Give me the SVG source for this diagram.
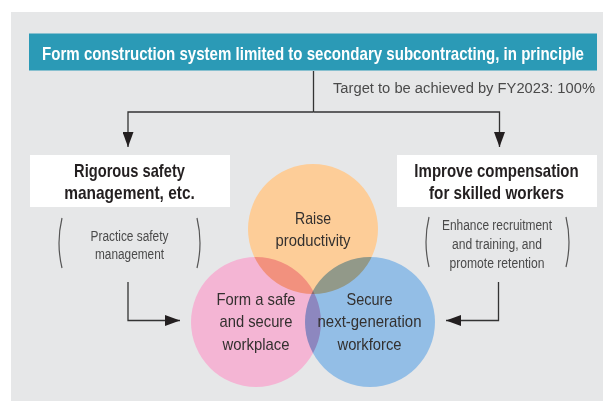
<svg xmlns="http://www.w3.org/2000/svg" width="603" height="401" viewBox="0 0 603 401">
  <style>
    .bar { font-family: "Liberation Sans Narrow", "Liberation Sans", Arial, sans-serif; font-weight: bold; font-size: 17.5px; fill: #ffffff; text-anchor: middle; }
    .head { font-family: "Liberation Sans Narrow", "Liberation Sans", Arial, sans-serif; font-weight: bold; font-size: 17.5px; fill: #231f20; text-anchor: middle; }
    .sub { font-family: "Liberation Sans Narrow", "Liberation Sans", Arial, sans-serif; font-size: 14px; fill: #4a4a4a; text-anchor: middle; }
    .circ { font-family: "Liberation Sans Narrow", "Liberation Sans", Arial, sans-serif; font-size: 17px; fill: #33302f; text-anchor: middle; }
    .note { font-family: "Liberation Sans", Arial, sans-serif; font-size: 14px; fill: #4a4a4a; text-anchor: end; }
    .conn { fill: none; stroke: #333333; stroke-width: 1.3; }
    .paren { fill: none; stroke: #555555; stroke-width: 1.2; }
    .c { mix-blend-mode: multiply; }
  </style>
  <defs>
    <marker id="ah" viewBox="0 0 15 11" refX="15" refY="5.5" markerWidth="15" markerHeight="11" markerUnits="userSpaceOnUse" orient="auto">
      <path d="M0,0 L15,5.5 L0,11 z" fill="#231f20"/>
    </marker>
  </defs>

  <rect x="11" y="12" width="592" height="389" fill="#e6e7e8"/>

  <g id="policy">
    <rect x="29" y="33.5" width="568" height="37" fill="#2b9ab6"/>
    <text class="bar" transform="translate(313,59.5) scale(0.76,1)" x="0" y="0" textLength="713" lengthAdjust="spacingAndGlyphs">Form construction system limited to secondary subcontracting, in principle</text>
  </g>

  <g id="target">
    <text class="note" x="595" y="92.5" textLength="262" lengthAdjust="spacingAndGlyphs">Target to be achieved by FY2023: 100%</text>
  </g>

  <g id="connectors">
    <path class="conn" d="M313.5,71 V112"/>
    <path class="conn" d="M313.5,112 H128 V147" marker-end="url(#ah)"/>
    <path class="conn" d="M313.5,112 H499.5 V147" marker-end="url(#ah)"/>
    <path class="conn" d="M128,282 V320.5 H180" marker-end="url(#ah)"/>
    <path class="conn" d="M498.5,282 V320.5 H446" marker-end="url(#ah)"/>
  </g>

  <g id="safety-management">
    <rect x="30" y="155" width="200" height="52" fill="#ffffff"/>
    <text class="head" transform="translate(129.5,176.5) scale(0.86,1)" x="0" y="0" textLength="129" lengthAdjust="spacingAndGlyphs">Rigorous safety</text>
    <text class="head" transform="translate(129.5,198.5) scale(0.86,1)" x="0" y="0" textLength="152" lengthAdjust="spacingAndGlyphs">management, etc.</text>
  </g>

  <g id="practice-safety">
    <path class="paren" d="M62,218 Q56,243 62,268"/>
    <path class="paren" d="M197,218 Q203,243 197,268"/>
    <text class="sub" x="129.5" y="240.5" textLength="78" lengthAdjust="spacingAndGlyphs">Practice safety</text>
    <text class="sub" x="129.5" y="259" textLength="69" lengthAdjust="spacingAndGlyphs">management</text>
  </g>

  <g id="compensation">
    <rect x="397" y="155" width="200" height="52" fill="#ffffff"/>
    <text class="head" transform="translate(496.5,176.5) scale(0.86,1)" x="0" y="0" textLength="191" lengthAdjust="spacingAndGlyphs">Improve compensation</text>
    <text class="head" transform="translate(496.5,198.5) scale(0.86,1)" x="0" y="0" textLength="157" lengthAdjust="spacingAndGlyphs">for skilled workers</text>
  </g>

  <g id="recruitment">
    <path class="paren" d="M429,217 Q423,242 429,267"/>
    <path class="paren" d="M566,217 Q572,242 566,267"/>
    <text class="sub" x="497" y="230" textLength="110" lengthAdjust="spacingAndGlyphs">Enhance recruitment</text>
    <text class="sub" x="497" y="249" textLength="90" lengthAdjust="spacingAndGlyphs">and training, and</text>
    <text class="sub" x="497" y="267.5" textLength="95" lengthAdjust="spacingAndGlyphs">promote retention</text>
  </g>

  <g id="circles" style="isolation:isolate">
    <circle id="c-productivity" class="c" cx="313" cy="229" r="65" fill="#fdcd98"/>
    <circle id="c-workplace" class="c" cx="256" cy="322" r="65" fill="#f4b5d4"/>
    <circle id="c-workforce" class="c" cx="370" cy="322" r="65" fill="#93bee6"/>
  </g>

  <g id="raise-productivity">
    <text class="circ" x="313" y="224" textLength="36" lengthAdjust="spacingAndGlyphs">Raise</text>
    <text class="circ" x="313" y="246" textLength="75" lengthAdjust="spacingAndGlyphs">productivity</text>
  </g>

  <g id="safe-workplace">
    <text class="circ" x="256" y="305" textLength="79" lengthAdjust="spacingAndGlyphs">Form a safe</text>
    <text class="circ" x="256" y="327" textLength="73" lengthAdjust="spacingAndGlyphs">and secure</text>
    <text class="circ" x="256" y="350" textLength="67" lengthAdjust="spacingAndGlyphs">workplace</text>
  </g>

  <g id="next-generation">
    <text class="circ" x="369.5" y="305" textLength="46" lengthAdjust="spacingAndGlyphs">Secure</text>
    <text class="circ" x="369.5" y="327" textLength="104" lengthAdjust="spacingAndGlyphs">next-generation</text>
    <text class="circ" x="369.5" y="350" textLength="64" lengthAdjust="spacingAndGlyphs">workforce</text>
  </g>
</svg>
